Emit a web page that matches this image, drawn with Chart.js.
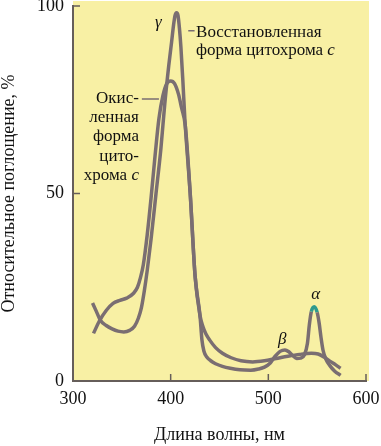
<!DOCTYPE html>
<html lang="ru">
<head>
<meta charset="utf-8">
<title>Спектры поглощения цитохрома c</title>
<script src="https://cdn.jsdelivr.net/npm/chart.js@4.4.1/dist/chart.umd.min.js"></script>
<style>
  html, body { margin: 0; padding: 0; background: #ffffff; }
  #box { width: 381px; height: 446px; }
</style>
</head>
<body>
<div id="box"><canvas id="myChart" width="381" height="446"></canvas></div>
<script>
// Data: wavelength (nm) and relative absorbance (%)
var oxWave = [321, 327, 334, 341, 348, 355, 362, 366, 369, 372, 376, 380, 384, 388, 392, 396, 400, 404, 408, 411, 415, 420, 425, 430, 433, 436, 440, 446, 453, 462, 472, 484, 496, 508, 520, 532, 544, 551, 557, 563, 569, 574];
var oxAbs = [12.7, 16, 18.8, 20.7, 21.5, 22.1, 23.4, 25, 27.5, 31, 39, 49, 60, 70, 76, 79.3, 80, 79.3, 76.5, 73, 68, 50, 28, 17.5, 14.5, 12.6, 10.9, 8.9, 7.4, 6.2, 5.4, 5.1, 5.4, 6.0, 6.6, 7.1, 7.4, 7.2, 6.4, 5.3, 4.3, 3.4];

var redWave = [320, 324, 328, 334, 340, 346, 352, 358, 363, 367, 370, 373, 376, 380, 385, 390, 394, 398, 401, 403, 404.5, 406, 407.5, 409, 410.5, 412.5, 414.5, 420, 425, 430, 432, 434, 437, 441, 446, 453, 461, 471, 482, 490, 496, 502, 507, 512, 517, 521, 525, 529, 533, 537, 540, 542, 544, 547, 550, 552, 554, 556, 559, 563, 568, 574];
var redAbs = [20.8, 18.5, 16.2, 14.8, 13.9, 13.3, 13.1, 13.5, 14.6, 16.8, 19.5, 24, 29.5, 38, 50, 62, 74, 84, 90.5, 95, 97.5, 98.2, 97.5, 94, 89, 80, 70, 50, 28, 17.5, 11, 8, 6.4, 5.4, 4.6, 3.9, 3.4, 3.0, 2.9, 3.2, 3.7, 4.8, 6.6, 7.9, 8.3, 7.8, 6.8, 6.0, 6.1, 7.0, 10, 15, 18.5, 19.8, 18.3, 15.5, 11.5, 8.2, 5.8, 4.1, 2.6, 1.5];

var xTicks = [300, 400, 500, 600];
var yTicks = [0, 50, 100];

var serif = "'Liberation Serif', 'DejaVu Serif', serif";
var lineColor = "#7a6e72";
var axisColor = "#665e5a";
var textColor = "#111111";
var alphaColor = "#2e9a8e";

function toPoints(xs, ys) {
  return xs.map(function (x, i) { return { x: x, y: ys[i] }; });
}

// draws one text line made of plain / italic parts
function textLine(ctx, parts, x, y, align) {
  var w = 0;
  parts.forEach(function (p) {
    ctx.font = (p.it ? "italic " : "") + "17px " + serif;
    p.w = ctx.measureText(p.t).width;
    w += p.w;
  });
  var cx = align === "right" ? x - w : x;
  parts.forEach(function (p) {
    ctx.font = (p.it ? "italic " : "") + "17px " + serif;
    ctx.fillText(p.t, cx, y);
    cx += p.w;
  });
}

var paper = {
  id: "paper",
  beforeDraw: function (chart) {
    var c = chart.ctx, a = chart.chartArea;
    c.save();
    c.fillStyle = "#ffffff";
    c.fillRect(0, 0, chart.width, chart.height);
    c.fillStyle = "#f8f0a4";
    c.fillRect(a.left, a.top - 5, a.right - a.left + 3, a.bottom - a.top + 5);
    c.restore();
  },
  afterDraw: function (chart) {
    var c = chart.ctx, xs = chart.scales.x, ys = chart.scales.y;
    var a = chart.chartArea;
    c.save();
    // inward tick marks
    c.strokeStyle = axisColor;
    c.lineWidth = 1.5;
    xTicks.slice(1).forEach(function (v) {
      var px = xs.getPixelForValue(v);
      c.beginPath(); c.moveTo(px, a.bottom); c.lineTo(px, a.bottom - 7); c.stroke();
    });
    yTicks.slice(1).forEach(function (v) {
      var py = ys.getPixelForValue(v);
      c.beginPath(); c.moveTo(a.left, py); c.lineTo(a.left + 7, py); c.stroke();
    });

    // labels
    c.fillStyle = textColor;
    c.textBaseline = "middle";
    function X(v) { return xs.getPixelForValue(v); }
    function Y(v) { return ys.getPixelForValue(v); }

    c.textAlign = "left";
    textLine(c, [{ t: "γ", it: true }], X(384), Y(95.5), "left");
    textLine(c, [{ t: "β", it: true }], X(510), Y(11), "left");
    textLine(c, [{ t: "α", it: true }], X(544), Y(23), "left");

    textLine(c, [{ t: "Восстановленная" }], X(426), Y(93), "left");
    textLine(c, [{ t: "форма цитохрома " }, { t: "c", it: true }], X(426), Y(88), "left");

    var ox = [
      [{ t: "Окис-" }],
      [{ t: "ленная" }],
      [{ t: "форма" }],
      [{ t: "цито-" }],
      [{ t: "хрома " }, { t: "c", it: true }]
    ];
    ox.forEach(function (parts, i) {
      textLine(c, parts, X(367.5), Y(75.3) + i * 19.2, "right");
    });

    // leader dashes
    c.strokeStyle = lineColor;
    c.lineWidth = 1.5;
    c.beginPath(); c.moveTo(X(370.5), Y(75.2)); c.lineTo(X(388), Y(75.2)); c.stroke();
    c.beginPath(); c.moveTo(X(418), Y(93.4)); c.lineTo(X(424.5), Y(93.4)); c.stroke();
    c.restore();
  }
};

function draw() {
  var ctx = document.getElementById("myChart").getContext("2d");
  return new Chart(ctx, {
    type: "line",
    data: {
      datasets: [
        {
          label: "Окисленная форма цитохрома c",
          data: toPoints(oxWave, oxAbs),
          borderColor: lineColor,
          borderWidth: 3.5,
          pointRadius: 0,
          fill: false,
          cubicInterpolationMode: "monotone",
        },
        {
          label: "Восстановленная форма цитохрома c",
          data: toPoints(redWave, redAbs),
          borderColor: lineColor,
          borderWidth: 3.5,
          pointRadius: 0,
          fill: false,
          cubicInterpolationMode: "monotone",
          segment: {
            borderColor: function (s) {
              return s.p0.parsed.x >= 544 && s.p1.parsed.x <= 550 ? alphaColor : undefined;
            },
          },
        },
      ],
    },
    options: {
      responsive: false,
      animation: false,
      devicePixelRatio: 1,
      layout: { padding: { top: 6, right: 15, left: 0, bottom: 0 } },
      plugins: {
        legend: { display: false },
        tooltip: { enabled: false },
      },
      scales: {
        x: {
          type: "linear",
          min: 300,
          max: 600,
          afterBuildTicks: function (s) {
            s.ticks = xTicks.map(function (v) { return { value: v }; });
          },
          afterFit: function (s) {
            s.height = 65;
            s.paddingLeft = 0;
            s.paddingRight = 0;
          },
          grid: { drawOnChartArea: false, drawTicks: false },
          border: { display: true, color: axisColor, width: 2 },
          ticks: {
            padding: 7,
            color: textColor,
            autoSkip: false,
            maxRotation: 0,
            font: { family: serif, size: 18 },
          },
          title: {
            display: true,
            text: "Длина волны, нм",
            color: textColor,
            font: { family: serif, size: 18 },
            padding: { top: 0, bottom: 0 },
          },
        },
        y: {
          min: 0,
          max: 100,
          afterBuildTicks: function (s) {
            s.ticks = yTicks.map(function (v) { return { value: v }; });
          },
          afterFit: function (s) {
            s.width = 73;
            s.paddingTop = 0;
            s.paddingBottom = 0;
          },
          grid: { drawOnChartArea: false, drawTicks: false },
          border: { display: true, color: axisColor, width: 2 },
          ticks: {
            padding: 9,
            color: textColor,
            font: { family: serif, size: 18 },
          },
          title: {
            display: true,
            text: "Относительное поглощение, %",
            color: textColor,
            font: { family: serif, size: 18, lineHeight: 1 },
            padding: { top: 0, bottom: 0 },
          },
        },
      },
    },
    plugins: [paper],
  });
}

var myChart;
if (document.fonts && document.fonts.load) {
  Promise.all([
    document.fonts.load("17px 'Liberation Serif'"),
    document.fonts.load("italic 17px 'Liberation Serif'"),
  ]).then(function () { myChart = draw(); }, function () { myChart = draw(); });
} else {
  myChart = draw();
}
</script>
</body>
</html>
